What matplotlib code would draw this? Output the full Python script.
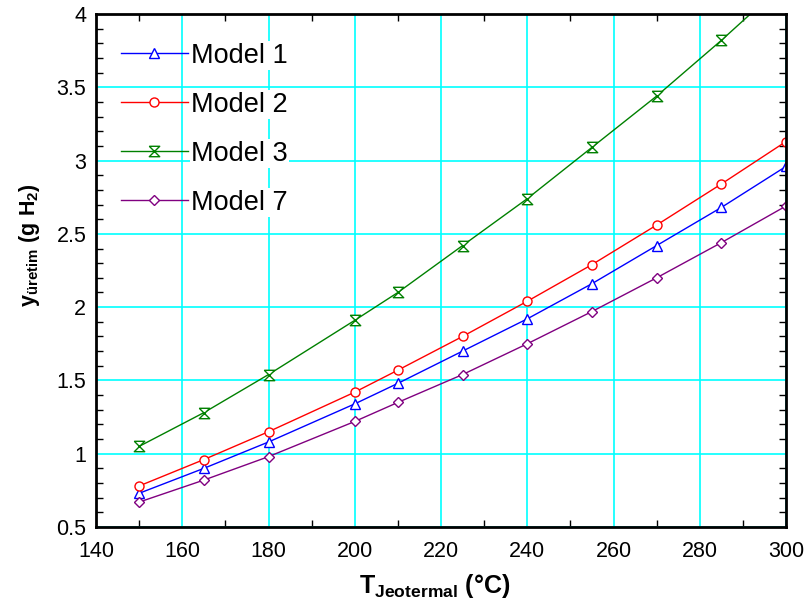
import numpy as np
import matplotlib
matplotlib.use("Agg")
import matplotlib.pyplot as plt
from matplotlib.ticker import MultipleLocator

plt.rcParams['font.family'] = ['Liberation Sans', 'DejaVu Sans']
plt.rcParams['mathtext.fontset'] = 'custom'
plt.rcParams['mathtext.rm'] = 'Liberation Sans'
plt.rcParams['mathtext.bf'] = 'Liberation Sans:bold'
plt.rcParams['mathtext.it'] = 'Liberation Sans:italic'

# temperatures (°C)
temp = [150, 165, 180, 200, 210, 225, 240, 255, 270, 285, 300]

# hydrogen produced (g H2)
model1 = [0.73, 0.90, 1.08, 1.34, 1.48, 1.70, 1.92, 2.16, 2.42, 2.68, 2.96]
model2 = [0.78, 0.96, 1.15, 1.42, 1.57, 1.80, 2.04, 2.29, 2.56, 2.84, 3.13]
model3 = [1.05, 1.28, 1.54, 1.91, 2.10, 2.42, 2.74, 3.09, 3.44, 3.82, 4.22]
model7 = [0.67, 0.82, 0.98, 1.22, 1.35, 1.54, 1.75, 1.97, 2.20, 2.44, 2.69]

labels = ['Model 1', 'Model 2', 'Model 3', 'Model 7']
colors = ['#0000FF', '#FF0000', '#008000', '#800080']

# hourglass marker
hourglass = [(-1, 1), (1, 1), (-1, -1), (1, -1), (-1, 1)]
markers = ['^', 'o', hourglass, 'D']
msizes = [7, 6.5, 7.5, 5]

fig = plt.figure(figsize=(8.08, 6.06), dpi=100)
ax = fig.add_axes([96/808, 1-527/606, 690/808, 513/606])

series = [model1, model2, model3, model7]
for ys, lab, c, m, ms in zip(series, labels, colors, markers, msizes):
    ax.plot(temp, ys, color=c, lw=1.0, marker=m, ms=ms, mfc='white',
            mec=c, mew=1.0, label=lab)

ax.set_xlim(140, 300)
ax.set_ylim(0.5, 4)
ax.xaxis.set_major_locator(MultipleLocator(20))
ax.xaxis.set_minor_locator(MultipleLocator(10))
ax.yaxis.set_major_locator(MultipleLocator(0.5))
ax.yaxis.set_minor_locator(MultipleLocator(0.1))
ax.yaxis.set_major_formatter(plt.FuncFormatter(lambda v, p: ('%g' % v)))

ax.grid(True, which='major', color='#00FFFF', lw=1.2)
ax.set_axisbelow(True)
ax.tick_params(which='both', direction='in', top=True, right=True,
               labelsize=15.5)
ax.tick_params(which='major', length=0, pad=7)
ax.tick_params(axis='x', which='major', pad=10)
ax.tick_params(which='minor', length=5, width=1.0)
for s in ax.spines.values():
    s.set_linewidth(2)

leg = ax.legend(loc='upper left', bbox_to_anchor=(0.02, 0.965), frameon=False,
                fontsize=19.5, handlelength=2.5, handletextpad=0.1,
                labelspacing=0.85, borderaxespad=0)
for t in leg.get_texts():
    t.set_bbox(dict(facecolor='white', edgecolor='none', pad=1))

fig.text(435/808, 1-586/606, r'$\mathbf{T_{Jeotermal}}$ (°C)',
         fontsize=18, fontweight='bold', ha='center', va='center')
fig.text(30/808, 1-245/606, r'$\mathbf{y_{üretim}}$ (g H$_\mathbf{2}$)',
         fontsize=15.5, fontweight='bold', ha='center', va='center',
         rotation=90)

plt.savefig("out.png", dpi=100)
